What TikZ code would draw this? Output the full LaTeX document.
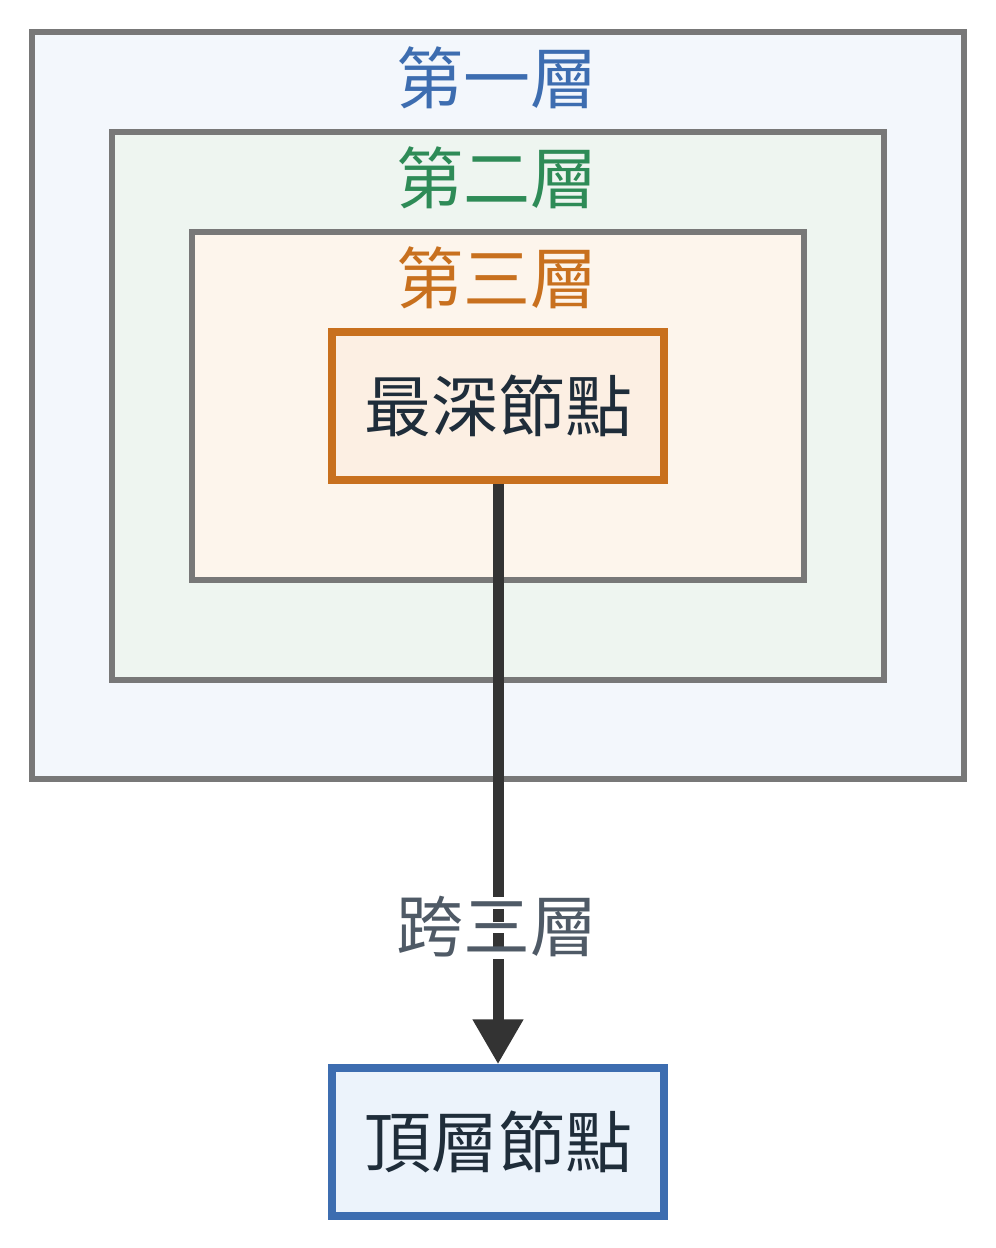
\documentclass[tikz,border=0pt]{standalone}
\usepackage{fontspec}
\setmainfont{Noto Sans CJK TC}
\usetikzlibrary{arrows.meta}
\definecolor{framegray}{HTML}{787878}
\definecolor{fillone}{HTML}{F3F7FC}
\definecolor{filltwo}{HTML}{EEF5F0}
\definecolor{fillthree}{HTML}{FDF5EC}
\definecolor{filldeep}{HTML}{FCEFE3}
\definecolor{filltop}{HTML}{ECF3FB}
\definecolor{tblue}{HTML}{3D6DB0}
\definecolor{tgreen}{HTML}{2E8B57}
\definecolor{torange}{HTML}{C8701E}
\definecolor{textdark}{HTML}{1F2D3A}
\definecolor{labelgray}{HTML}{4F5A66}
\definecolor{arrowdark}{HTML}{333333}
\tikzset{
  layerbox/.style={draw=framegray, line width=6pt},
  ttl/.style={font=\fontsize{67}{67}\selectfont, inner sep=0pt, anchor=center},
  nodebox/.style={line width=7.5pt, minimum width=332pt, minimum height=148pt, inner sep=0pt,
    font=\fontsize{67}{67}\selectfont, text=textdark},
  halo/.style={fill=white, draw=none},
}
\begin{document}
\begin{tikzpicture}[x=1pt,y=-1pt]
\useasboundingbox (0,0) rectangle (996,1248);
\fill[white] (0,0) rectangle (996,1248);
% layers
\draw[layerbox, fill=fillone] (32,32) rectangle (964,779);
\draw[layerbox, fill=filltwo] (112,132) rectangle (884,680);
\draw[layerbox, fill=fillthree] (192,232) rectangle (804,580);
\node[ttl, text=tblue] (t1) at (497,78) {第一層};
\node[ttl, text=tgreen] (t2) at (497,178) {第二層};
\node[ttl, text=torange] (t3) at (497,278) {第三層};
% nodes
\node[nodebox, draw=torange, fill=filldeep] (deep) at (498,406) {最深節點};
\node[nodebox, draw=tblue, fill=filltop] (top) at (498,1142) {頂層節點};
% connector
\draw[arrowdark, line width=11pt, -{Triangle[length=45pt,width=48pt]}] (deep.south) -- (top.north);
% label
\node[ttl, text=labelgray] (lbl) at (497,927) {\phantom{跨三層}};
\path[halo] ([yshift=-1pt]lbl.center) ++(-9,-31) rectangle ++(18,12);
\path[halo] ([yshift=-1pt]lbl.center) ++(-9,-6) rectangle ++(18,11);
\path[halo] ([yshift=-1pt]lbl.center) ++(-9,19) rectangle ++(18,12);
\node[ttl, text=labelgray] at (lbl.center) {跨三層};
\end{tikzpicture}
\end{document}
